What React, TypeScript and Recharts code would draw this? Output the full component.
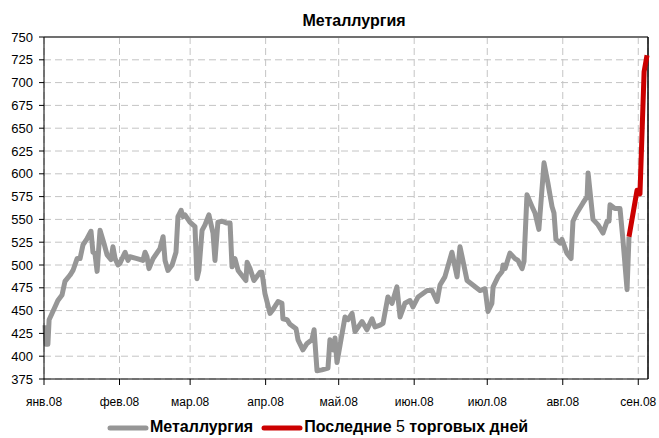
import React from "react";
import {
  LineChart,
  Line,
  XAxis,
  YAxis,
  CartesianGrid,
  Legend,
  ReferenceLine,
} from "recharts";

// day of year 2008 (0 = 1 Jan) and index value
const metalDays = [
  0.4, 0.8, 1.6, 2.1, 4.5, 5.7, 7.4, 8.6, 10.7, 11.9, 13.6, 14.8, 16.0, 17.7,
  19.3, 20.1, 20.9, 21.8, 23.0, 24.6, 25.9, 27.5, 28.3, 29.2, 30.4, 31.2, 33.3,
  34.5, 35.3, 38.2, 40.6, 41.5, 42.3, 43.1, 44.8, 47.6, 48.9, 49.7, 50.9, 52.6,
  54.2, 55.0, 56.3, 57.1, 57.9, 59.9, 62.0, 62.8, 63.6, 64.9, 66.1, 67.7, 69.4,
  70.2, 71.4, 73.1, 75.1, 76.4, 77.2, 78.4, 79.7, 82.9, 83.4, 84.6, 86.2, 88.7,
  89.5, 90.7, 92.8, 94.0, 96.1, 97.7, 98.1, 99.8, 101.0, 103.5, 104.3, 106.3,
  108.0, 110.0, 110.9, 112.1, 114.1, 116.6, 117.4, 118.7, 119.5, 120.3, 122.4,
  123.6, 124.8, 126.5, 127.7, 130.6, 132.6, 134.7, 135.9, 138.0, 139.2, 141.2,
  142.9, 144.9, 146.2, 148.2, 150.3, 151.5, 153.6, 157.3, 159.3, 161.4, 162.6,
  164.6, 167.5, 169.6, 170.8, 172.0, 173.7, 176.1, 179.0, 181.1, 182.3, 183.9,
  184.4, 186.4, 188.1, 188.5, 189.3, 191.3, 193.4, 194.6, 196.3, 197.1, 198.3,
  200.4, 201.6, 203.2, 205.3, 206.9, 208.6, 209.4, 210.2, 211.9, 212.7, 214.7,
  216.4, 217.2, 218.8, 221.3, 223.0, 223.4, 225.4, 227.5, 229.5, 231.2, 232.0,
  232.4, 234.4, 236.5, 237.7, 239.4, 240.2,
];
const metalValues = [
  434, 413, 413, 440, 454, 461, 467, 482, 489, 494, 507, 507, 522, 529, 537,
  514, 513, 493, 538, 524, 511, 506, 520, 507, 500, 502, 514, 505, 509, 507,
  505, 514, 509, 496, 507, 518, 531, 505, 494, 500, 514, 553, 560, 553, 555,
  547, 542, 485, 494, 538, 544, 555, 535, 505, 547, 548, 546, 546, 498, 507,
  494, 483, 503, 496, 483, 492, 492, 469, 447, 451, 460, 458, 441, 440, 435,
  430, 418, 407, 414, 418, 429, 384, 385, 387, 418, 407, 420, 393, 425, 443,
  440, 447, 427, 438, 429, 441, 432, 434, 436, 465, 458, 476, 443, 458, 461,
  454, 465, 472, 472, 460, 478, 487, 514, 487, 520, 505, 483, 478, 472, 474,
  449, 458, 476, 487, 493, 500, 496, 513, 507, 505, 496, 504, 577, 564, 557,
  539, 612, 590, 564, 557, 528, 524, 528, 513, 507, 548, 557, 568, 575, 601,
  550, 544, 535, 548, 548, 566, 562, 562, 528, 473, 531,
];

const lastDays = [240.2, 243.5, 244.7, 246.4, 247.6];
const lastValues = [531, 582, 578, 712, 730];

const monthTicks = [0, 31, 60, 91, 121, 152, 182, 213, 244];
const monthLabels = [
  "янв.08",
  "фев.08",
  "мар.08",
  "апр.08",
  "май.08",
  "июн.08",
  "июл.08",
  "авг.08",
  "сен.08",
];
const yTicks = [
  375, 400, 425, 450, 475, 500, 525, 550, 575, 600, 625, 650, 675, 700, 725,
  750,
];

const FONT = '"Liberation Sans", Arial, sans-serif';
const GRAY = "#969696";
const RED = "#cc0000";

const rows: { day: number; metal?: number; last?: number }[] = [];
metalDays.forEach((d, i) => rows.push({ day: d, metal: metalValues[i] }));
lastDays.forEach((d, i) => {
  const hit = rows.find((r) => r.day === d);
  if (hit) hit.last = lastValues[i];
  else rows.push({ day: d, last: lastValues[i] });
});

const LegendSample = ({ color }: { color: string }) => (
  <svg width={42} height={22} style={{ display: "block" }}>
    <line
      x1={3}
      y1={12}
      x2={39}
      y2={12}
      stroke={color}
      strokeWidth={5}
      strokeLinecap="round"
    />
  </svg>
);

const CustomLegend = () => (
  <div
    style={{
      display: "flex",
      alignItems: "center",
      height: 22,
      paddingLeft: 107,
      fontFamily: FONT,
      fontWeight: "bold",
      fontSize: 16,
      color: "#000",
      whiteSpace: "nowrap",
    }}
  >
    <LegendSample color={GRAY} />
    <span style={{ marginLeft: 1, marginRight: 8 }}>Металлургия</span>
    <LegendSample color={RED} />
    <span style={{ marginLeft: 1 }}>
      Последние <span style={{ fontWeight: "normal" }}>5</span> торговых дней
    </span>
  </div>
);

export default function App() {
  return (
    <div
      style={{
        position: "absolute",
        left: 0,
        top: 0,
        width: 659,
        height: 438,
        background: "#fff",
      }}
    >
      <div
        style={{
          position: "absolute",
          left: 254,
          top: 11,
          width: 200,
          textAlign: "center",
          fontFamily: FONT,
          fontWeight: "bold",
          fontSize: 16,
          lineHeight: "19px",
        }}
      >
        Металлургия
      </div>
      <LineChart
        width={659}
        height={438}
        data={rows}
        margin={{ top: 37, right: 11, bottom: 0, left: 0 }}
      >
        <CartesianGrid stroke="#c4c4c4" strokeDasharray="7 4" />
        <XAxis
          dataKey="day"
          type="number"
          domain={[0, 248]}
          ticks={monthTicks}
          interval={0}
          tickFormatter={(v) => monthLabels[monthTicks.indexOf(v)] ?? ""}
          height={37}
          tickSize={6}
          tickMargin={12}
          axisLine={{ stroke: "#000" }}
          tickLine={{ stroke: "#000" }}
          tick={{ fill: "#000", fontSize: 12, fontFamily: FONT }}
        />
        <YAxis
          type="number"
          domain={[375, 750]}
          ticks={yTicks}
          interval={0}
          width={44}
          tickSize={5}
          tickMargin={6}
          axisLine={{ stroke: "#000" }}
          tickLine={{ stroke: "#000" }}
          tick={{ fill: "#000", fontSize: 13, fontFamily: FONT }}
        />
        <ReferenceLine y={750} stroke="#707070" strokeWidth={2} />
        <ReferenceLine x={248} stroke="#000" strokeWidth={1.5} />
        <Legend
          verticalAlign="bottom"
          height={22}
          content={<CustomLegend />}
          wrapperStyle={{ left: 0, width: 659 }}
        />
        <Line
          type="linear"
          dataKey="metal"
          name="Металлургия"
          stroke={GRAY}
          strokeWidth={5}
          strokeLinejoin="round"
          dot={false}
          isAnimationActive={false}
        />
        <Line
          type="linear"
          dataKey="last"
          name="Последние 5 торговых дней"
          stroke={RED}
          strokeWidth={5}
          strokeLinejoin="round"
          dot={false}
          connectNulls
          isAnimationActive={false}
        />
      </LineChart>
    </div>
  );
}
